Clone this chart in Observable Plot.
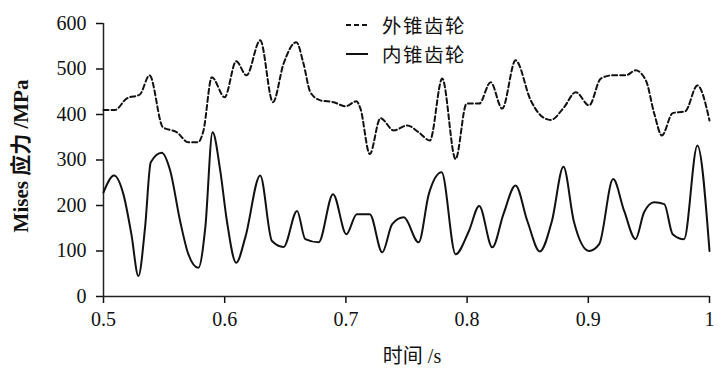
<!DOCTYPE html>
<html>
<head>
<meta charset="utf-8">
<script src="https://cdn.jsdelivr.net/npm/d3@7"></script>
<script src="https://cdn.jsdelivr.net/npm/@observablehq/plot@0.6"></script>
<style>
  html, body { margin: 0; padding: 0; background: #fff; }
  #wrap { position: relative; width: 721px; height: 381px; overflow: hidden; }
  #wrap > svg { position: absolute; left: 0; top: 0; }
  .cjk { font-family: "Noto Sans CJK SC", sans-serif; }
  .ser { font-family: "Liberation Serif", serif; }
  #ytitle { position: absolute; left: 20px; top: 156px; transform: translate(-50%, -50%) rotate(-90deg);
    white-space: nowrap; font-size: 21px; line-height: 24px; font-weight: bold; color: #111; }
  #xtitle { position: absolute; left: 412px; top: 355px; transform: translate(-50%, -50%);
    white-space: nowrap; font-size: 20px; line-height: 24px; color: #111; }
  .leg { position: absolute; left: 346px; height: 24px; line-height: 24px; display: flex; align-items: center; white-space: nowrap;
    font-size: 19.5px; letter-spacing: 1.5px; color: #111; }
  .leg span { line-height: 24px; }
  #wrap .leg svg { position: static; display: block; margin-right: 14px; }
</style>
</head>
<body>
<div id="wrap"></div>
<script>
// Time (s) and Mises stress (MPa)
const outerT = [0.5, 0.5095, 0.519, 0.530, 0.538, 0.549, 0.5605, 0.570, 0.578, 0.5825, 0.5894, 0.600,
  0.6095, 0.618, 0.6293, 0.6398, 0.6486, 0.6591, 0.665, 0.6707, 0.679, 0.690, 0.6996,
  0.7087, 0.712, 0.7197, 0.7285, 0.7395, 0.7506, 0.760, 0.7693, 0.7795, 0.7905, 0.7996,
  0.810, 0.8194, 0.829, 0.840, 0.8525, 0.8607, 0.869, 0.880, 0.8897, 0.9007,
  0.9103, 0.920, 0.931, 0.939, 0.9475, 0.9544, 0.9607, 0.9696, 0.980, 0.990, 1.0];
const outerV = [410, 410, 435, 444, 486, 372, 361, 339, 339, 365, 482, 438,
  517, 486, 563, 427, 512, 559, 512, 449, 431, 427, 418,
  429, 413, 313, 392, 365, 376, 361, 343, 479, 302, 424,
  424, 471, 413, 519, 431, 398, 388, 416, 449, 420,
  479, 486, 486, 497, 475, 402, 354, 403, 407, 464, 387];

const innerT = [0.5, 0.5087, 0.5164, 0.523, 0.5288, 0.5343, 0.539, 0.548, 0.555, 0.5632, 0.570, 0.5783,
  0.584, 0.590, 0.5963, 0.6018, 0.6095, 0.617, 0.6293, 0.639, 0.6486, 0.6597, 0.6665, 0.6775,
  0.6894, 0.7004, 0.709, 0.7197, 0.730, 0.7382, 0.7478, 0.760, 0.7684, 0.779, 0.7905,
  0.8015, 0.810, 0.8208, 0.830, 0.840, 0.8497, 0.860, 0.870, 0.8795, 0.888, 0.9007,
  0.909, 0.9205, 0.9296, 0.939, 0.946, 0.9544, 0.9627, 0.9696, 0.979, 0.990, 1.0];
const innerV = [229, 266, 225, 137, 45, 152, 295, 316, 277, 166, 93, 63,
  152, 361, 277, 166, 74, 130, 266, 122, 109, 188, 126, 119,
  225, 137, 181, 181, 97, 159, 174, 119, 225, 273, 93,
  144, 199, 108, 181, 244, 166, 99, 166, 285, 166, 100,
  115, 258, 188, 126, 185, 207, 203, 137, 126, 332, 100];

const xTicks = [0.5, 0.6, 0.7, 0.8, 0.9, 1];
const xTickLabels = ["0.5", "0.6", "0.7", "0.8", "0.9", "1"];
const yTicks = [0, 100, 200, 300, 400, 500, 600];
const seriesNames = ["外锥齿轮", "内锥齿轮"];

const outer = outerT.map((t, i) => ({t, v: outerV[i]}));
const inner = innerT.map((t, i) => ({t, v: innerV[i]}));

const chart = Plot.plot({
  width: 721,
  height: 381,
  marginLeft: 103,
  marginRight: 12,
  marginTop: 23,
  marginBottom: 85,
  style: {fontFamily: "Liberation Serif, serif", fontSize: "20px", color: "#111", background: "transparent"},
  x: {domain: [0.5, 1], label: null},
  y: {domain: [0, 600], label: null},
  marks: [
    Plot.axisX({ticks: xTicks, tickFormat: d => xTickLabels[xTicks.indexOf(d)], tickSize: 7, tickPadding: 8, fontSize: 20, label: null, strokeWidth: 1.5}),
    Plot.axisY({ticks: yTicks, tickSize: 7, tickPadding: 10, fontSize: 20, label: null, strokeWidth: 1.5}),
    Plot.ruleX([0.5], {stroke: "#222", strokeWidth: 1.5}),
    Plot.ruleY([0], {stroke: "#222", strokeWidth: 1.5}),
    Plot.line(outer, {x: "t", y: "v", curve: "monotone-x", stroke: "#111", strokeWidth: 2, strokeDasharray: "5,3"}),
    Plot.line(inner, {x: "t", y: "v", curve: "monotone-x", stroke: "#111", strokeWidth: 2})
  ]
});

const wrap = document.getElementById("wrap");
wrap.appendChild(chart);

// axis titles
const yt = document.createElement("div");
yt.id = "ytitle";
yt.innerHTML = '<span class="ser">Mises </span><span class="cjk">应力</span><span class="ser"> /MPa</span>';
wrap.appendChild(yt);

const xt = document.createElement("div");
xt.id = "xtitle";
xt.innerHTML = '<span class="cjk">时间</span><span class="ser"> /s</span>';
wrap.appendChild(xt);

// legend
const legendTops = [13, 42];
seriesNames.forEach((name, i) => {
  const d = document.createElement("div");
  d.className = "leg";
  d.style.top = legendTops[i] + "px";
  d.innerHTML = `<svg width="22" height="24"><line x1="0" x2="22" y1="12" y2="12" stroke="#111" stroke-width="2" ${i === 0 ? `stroke-dasharray="5,3"` : ""}/></svg><span class="cjk">${name}</span>`;
  wrap.appendChild(d);
});
</script>
</body>
</html>
